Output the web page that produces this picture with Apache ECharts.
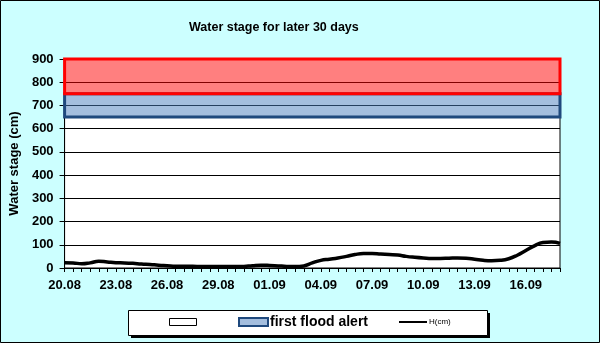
<!DOCTYPE html>
<html><head><meta charset="utf-8">
<script src="https://cdn.jsdelivr.net/npm/echarts@6/dist/echarts.min.js"></script>
<style>html,body{margin:0;padding:0;background:#CCFFFF}#c{width:600px;height:343px}</style>
</head><body><div id="c"></div>
<script>
// Days shown on the axis (readings every 12 hours)
const days = ['20.08','21.08','22.08','23.08','24.08','25.08','26.08','27.08','28.08','29.08','30.08','31.08',
  '01.09','02.09','03.09','04.09','05.09','06.09','07.09','08.09','09.09','10.09','11.09','12.09','13.09',
  '14.09','15.09','16.09','17.09','18.09'];
const halfDays = ['00h','12h'];
// Water stage H (cm), one value every 12 hours from 20.08 00h to 18.09 00h
const waterStage = [23,22,18,22,29,26,23,22,20,17,15,12,10,8,7,7,6,6,6,6,6,7,10,12,11,9,7,6,9,22,
  33,38,43,50,58,62,62,60,58,56,50,46,43,41,41,42,43,42,38,33,31,33,40,55,75,95,110,112,106];
const firstFloodAlert = [650, 750];
const secondFloodAlert = [750, 900];
const yTicks = [0, 900, 100];

const categories = [];
days.forEach(d => halfDays.forEach(h => categories.push(d + ' ' + h)));
categories.length = waterStage.length;

const FONT = '"Liberation Sans", Arial, sans-serif';
const chart = echarts.init(document.getElementById('c'), null, {renderer: 'canvas'});
chart.setOption({
  backgroundColor: '#CCFFFF',
  animation: false,
  title: {
    text: 'Water stage for later 30 days', left: 184, top: 16,
    textStyle: {fontFamily: FONT, fontSize: 12.5, fontWeight: 'bold', color: '#000'}
  },
  graphic: [
    {type: 'rect', z: 0, silent: true, shape: {x: 0.5, y: 0.5, width: 599, height: 342},
      style: {fill: 'none', stroke: '#000', lineWidth: 1}},
    {type: 'rect', z: 1, silent: true, shape: {x: 131, y: 313, width: 359, height: 25},
      style: {fill: '#000'}},
    {type: 'rect', z: 2, silent: true, shape: {x: 128.5, y: 310.5, width: 359, height: 25},
      style: {fill: '#fff', stroke: '#000', lineWidth: 1}}
  ],
  legend: [
    {z: 10, left: 169, top: 315, padding: 0, itemWidth: 27, itemHeight: 7, selectedMode: false,
      data: [{name: '\u00a0', icon: 'rect', itemStyle: {color: '#fff', borderColor: '#000', borderWidth: 1}}],
      textStyle: {fontFamily: FONT, fontSize: 13, lineHeight: 14}},
    {z: 10, left: 238, top: 315, padding: 0, itemWidth: 29, itemHeight: 8, itemGap: 0, selectedMode: false,
      data: [{name: 'first flood alert', icon: 'rect'}],
      textStyle: {fontFamily: FONT, fontSize: 14, fontWeight: 'bold', color: '#000', lineHeight: 14, padding: [0,0,0,-3]}},
    {z: 10, left: 399, top: 315, padding: 0, itemWidth: 28, itemHeight: 2, selectedMode: false,
      data: [{name: 'H(cm)', icon: 'rect', itemStyle: {color: '#000', borderWidth: 0}}],
      textStyle: {fontFamily: FONT, fontSize: 8, color: '#000', lineHeight: 14, padding: [0,0,0,-3]}}
  ],
  grid: {left: 64, right: 40, top: 59, bottom: 75, show: true, backgroundColor: '#fff',
    borderColor: '#000', borderWidth: 1},
  xAxis: {
    type: 'category', data: categories, boundaryGap: false,
    axisLine: {lineStyle: {color: '#000', width: 1}},
    axisTick: {show: true, interval: 0, length: 4, inside: false, lineStyle: {color: '#000'}},
    axisLabel: {interval: (i) => i % 6 === 0 && i < 56, hideOverlap: false, margin: 11, color: '#000',
      fontFamily: FONT, fontSize: 13, fontWeight: 'bold', formatter: v => v.split(' ')[0]},
    splitLine: {show: false}
  },
  yAxis: {
    type: 'value', min: yTicks[0], max: yTicks[1], interval: yTicks[2],
    name: 'Water stage (cm)', nameLocation: 'middle', nameGap: 39, nameRotate: 90,
    nameTextStyle: {fontFamily: FONT, fontSize: 13, fontWeight: 'bold', color: '#000'},
    axisLine: {show: true, lineStyle: {color: '#000'}},
    axisTick: {show: true, length: 5, lineStyle: {color: '#000'}},
    axisLabel: {margin: 11, color: '#000', fontFamily: FONT, fontSize: 13, fontWeight: 'bold'},
    splitLine: {show: true, lineStyle: {color: '#000', width: 1}}
  },
  series: [
    {name: '\u00a0', type: 'bar', data: [],
      itemStyle: {color: '#fff', borderColor: '#000', borderWidth: 1}},
    {name: 'first flood alert', type: 'bar', data: [],
      itemStyle: {color: '#A4BEDE', borderColor: '#1F497D', borderWidth: 2.5},
      markArea: {silent: true,
        itemStyle: {color: 'rgba(74,125,189,0.5)', borderColor: '#1F497D', borderWidth: 3},
        data: [[{yAxis: firstFloodAlert[0]}, {yAxis: firstFloodAlert[1]}]]}},
    {name: 'second flood alert', type: 'line', data: [],
      markArea: {silent: true,
        itemStyle: {color: 'rgba(255,0,0,0.5)', borderColor: '#FF0000', borderWidth: 3},
        data: [[{yAxis: secondFloodAlert[0]}, {yAxis: secondFloodAlert[1]}]]}},
    {name: 'H(cm)', type: 'line', data: waterStage, smooth: 0.5, symbol: 'none',
      lineStyle: {color: '#000', width: 3.5}, itemStyle: {color: '#000'}, z: 5}
  ]
});
</script></body></html>
